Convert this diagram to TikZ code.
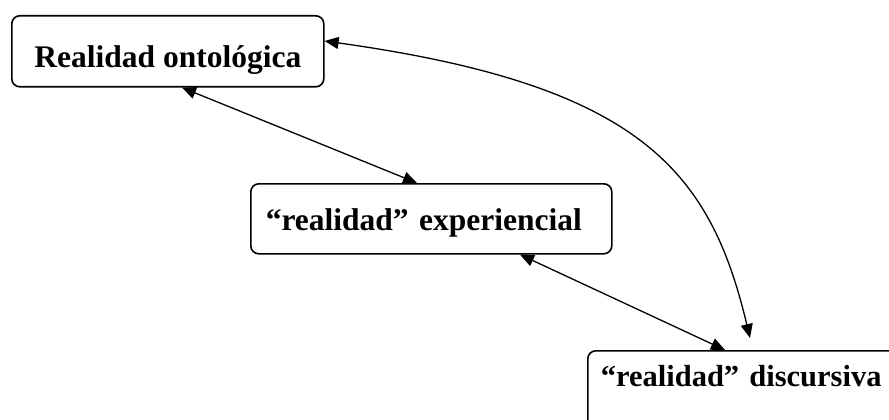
\documentclass[tikz,border=0pt]{standalone}
\usepackage{fontspec}
\setmainfont{Liberation Serif}
\usetikzlibrary{arrows.meta}
\tikzset{
  box/.style={draw=black, line width=1.6pt, rounded corners=8pt, fill=white,
    inner ysep=0pt, font=\fontsize{31.5}{38}\selectfont\bfseries},
  link/.style={line width=1.3pt,
    arrows={Triangle[length=14pt,width=12pt]-Triangle[length=14pt,width=12pt]}}
}
\begin{document}
\begin{tikzpicture}[x=1pt,y=-1pt]
\clip (0,0) rectangle (889,420);
\fill[white] (0,0) rectangle (889,420);
\node[box, anchor=north west, inner xsep=0pt, minimum width=312pt,
      text height=52pt, text depth=19pt] (b1) at (11,15) {Realidad ontológica};
\node[box, anchor=north west, inner xsep=15pt, text width=331pt, align=left,
      text height=47pt, text depth=23pt] (b2) at (250,183) {“realidad” experiencial};
\node[box, anchor=north west, inner xsep=13pt, text width=330pt, align=left,
      font=\fontsize{30.5}{37}\selectfont\bfseries,
      text height=36pt, text depth=90pt] (b3) at (587,350) {“realidad” discursiva};
\draw[link] ([xshift=171pt]b1.south west) -- ([xshift=167pt]b2.north west);
\draw[link] ([xshift=270pt]b2.south west) -- ([xshift=138pt]b3.north west);
\draw[link] ([yshift=-26pt]b1.north east) .. controls (640,85) and (710,170) .. ([xshift=163pt,yshift=12pt]b3.north west);
\end{tikzpicture}
\end{document}
